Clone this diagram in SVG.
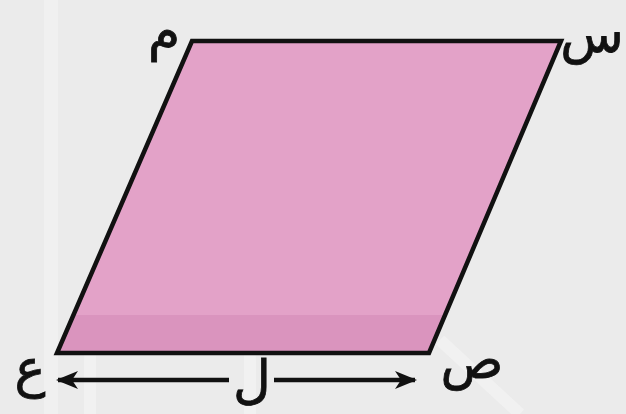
<svg xmlns="http://www.w3.org/2000/svg" width="626" height="414" viewBox="0 0 626 414">
<style>
.lbl{font-family:"DejaVu Sans","Liberation Sans",sans-serif;font-size:52px;fill:#111;stroke:#111;stroke-width:0.8;text-anchor:middle}
.edge{fill:none;stroke:#111;stroke-width:4.5}
</style>
<defs>
<marker id="ah" viewBox="0 0 22 18" refX="20" refY="9" markerWidth="22" markerHeight="18" markerUnits="userSpaceOnUse" orient="auto-start-reverse">
<path d="M0,0 L22,9 L0,18 L6,9 Z" fill="#111"/>
</marker>
</defs>
<rect width="626" height="414" fill="#ebebeb"/>
<g id="watermark" fill="none" stroke="#f4f4f4" stroke-width="12" opacity="0.7">
<rect x="44" y="-10" width="14" height="430" fill="#f3f3f3" stroke="none"/>
<path d="M210,40 V175 H320"/>
<path d="M415,70 V290"/>
<path d="M90,414 V360 A80,80 0 0 1 250,360 V414"/>
<path d="M440,340 L520,414"/>
</g>
<g id="shape">
<polygon points="192,41 561,41 429,353 57,353" fill="#e3a2c8"/>
<polygon points="73,315 445,315 429,353 57,353" fill="#d68fb9" opacity="0.7"/>
<polygon points="192,41 561,41 429,353 57,353" class="edge" stroke-linejoin="miter"/>
</g>
<g id="labels">
<text id="M" class="lbl" x="164" y="50">م</text>
<text id="S" class="lbl" x="592" y="52">س</text>
<text id="Sad" class="lbl" x="472" y="378">ص</text>
<text id="Ain" class="lbl" x="30" y="386">ع</text>
</g>
<g id="connectors">
<line x1="229" y1="380" x2="58" y2="380" stroke="#111" stroke-width="4.5" marker-end="url(#ah)"/>
<line x1="274" y1="380" x2="415" y2="380" stroke="#111" stroke-width="4.5" marker-end="url(#ah)"/>
<text id="L" class="lbl" x="252" y="398">ل</text>
</g>
</svg>
